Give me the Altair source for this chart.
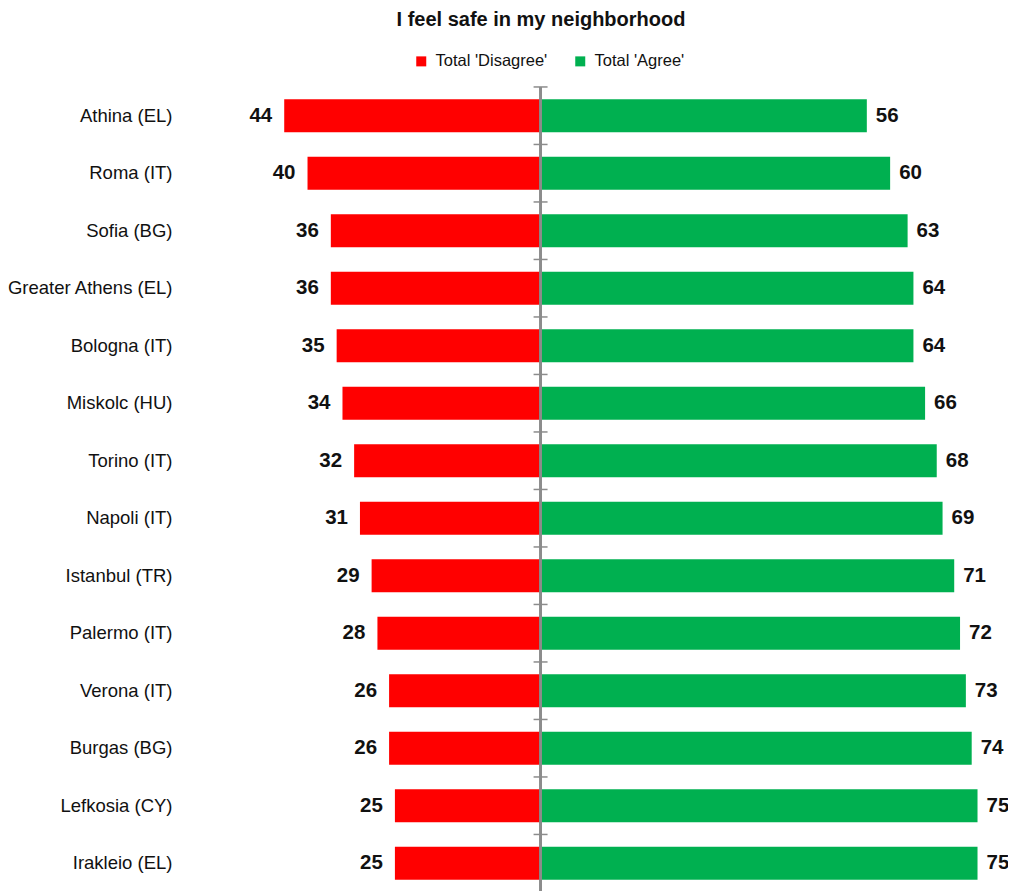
import altair as alt
import pandas as pd

cities = ["Athina (EL)", "Roma (IT)", "Sofia (BG)", "Greater Athens (EL)", "Bologna (IT)",
          "Miskolc (HU)", "Torino (IT)", "Napoli (IT)", "Istanbul (TR)", "Palermo (IT)",
          "Verona (IT)", "Burgas (BG)", "Lefkosia (CY)", "Irakleio (EL)"]
disagree = [44, 40, 36, 36, 35, 34, 32, 31, 29, 28, 26, 26, 25, 25]
agree = [56, 60, 63, 64, 64, 66, 68, 69, 71, 72, 73, 74, 75, 75]
series = ["Total 'Disagree'", "Total 'Agree'"]
colors = ["#FF0000", "#00B050"]

rows = []
for c, d, a in zip(cities, disagree, agree):
    rows.append({"city": c, "series": series[0], "value": -d, "label": d})
    rows.append({"city": c, "series": series[1], "value": a, "label": a})
df = pd.DataFrame(rows)
df_c = pd.DataFrame({"city": cities})

xscale = alt.Scale(domain=[-60, 78], nice=False, zero=False)
yscale = alt.Scale(domain=cities, paddingInner=0.43, paddingOuter=0.215)

y_enc = alt.Y("city:N", scale=yscale, sort=cities,
              axis=alt.Axis(title=None, ticks=False, domain=False, labelPadding=19,
                            labelFont="Liberation Sans", labelFontSize=18.5,
                            labelColor="#111111", labelLimit=300))

bars = alt.Chart(df).mark_bar().encode(
    x=alt.X("value:Q", scale=xscale, axis=None),
    y=y_enc,
    color=alt.Color("series:N", scale=alt.Scale(domain=series, range=colors),
                    legend=alt.Legend(title=None, orient="none", direction="horizontal",
                                      legendX=222, legendY=-34, symbolType="square",
                                      symbolSize=100, symbolStrokeWidth=0,
                                      labelFont="Liberation Sans", labelFontSize=16.5,
                                      labelColor="#111111", labelOffset=6,
                                      columnPadding=24)),
)

txt_d = alt.Chart(df[df.series == series[0]]).mark_text(
    align="right", baseline="middle", dx=-12, font="Liberation Sans",
    fontWeight="bold", fontSize=20.5, color="#111111").encode(
    x=alt.X("value:Q", scale=xscale), y=alt.Y("city:N", scale=yscale, sort=cities),
    text="label:Q")

txt_a = alt.Chart(df[df.series == series[1]]).mark_text(
    align="left", baseline="middle", dx=9, font="Liberation Sans",
    fontWeight="bold", fontSize=20.5, color="#111111").encode(
    x=alt.X("value:Q", scale=xscale), y=alt.Y("city:N", scale=yscale, sort=cities),
    text="label:Q")

vline = alt.Chart(df_c).mark_rule(color="#8c8c8c", strokeWidth=1.5).encode(
    x=alt.datum(0, scale=xscale))

ticks = alt.Chart(df_c).mark_rule(color="#8c8c8c", strokeWidth=1.5, yOffset=-12.4).encode(
    x=alt.datum(-1.2, scale=xscale), x2=alt.datum(1.2),
    y=alt.Y("city:N", scale=yscale, sort=cities, bandPosition=0))

chart = alt.layer(bars, vline, ticks, txt_d, txt_a).properties(
    width=804, height=805,
    autosize="none",
    padding={"left": 183, "top": 79, "right": 13, "bottom": 0},
    title=alt.Title("I feel safe in my neighborhood", font="Liberation Sans",
                    fontSize=20, fontWeight="bold", color="#111111",
                    anchor="middle", dx=-52, offset=23),
).configure_view(stroke=None)

chart.save("out.html", embed_options={"renderer": "svg", "actions": False})
